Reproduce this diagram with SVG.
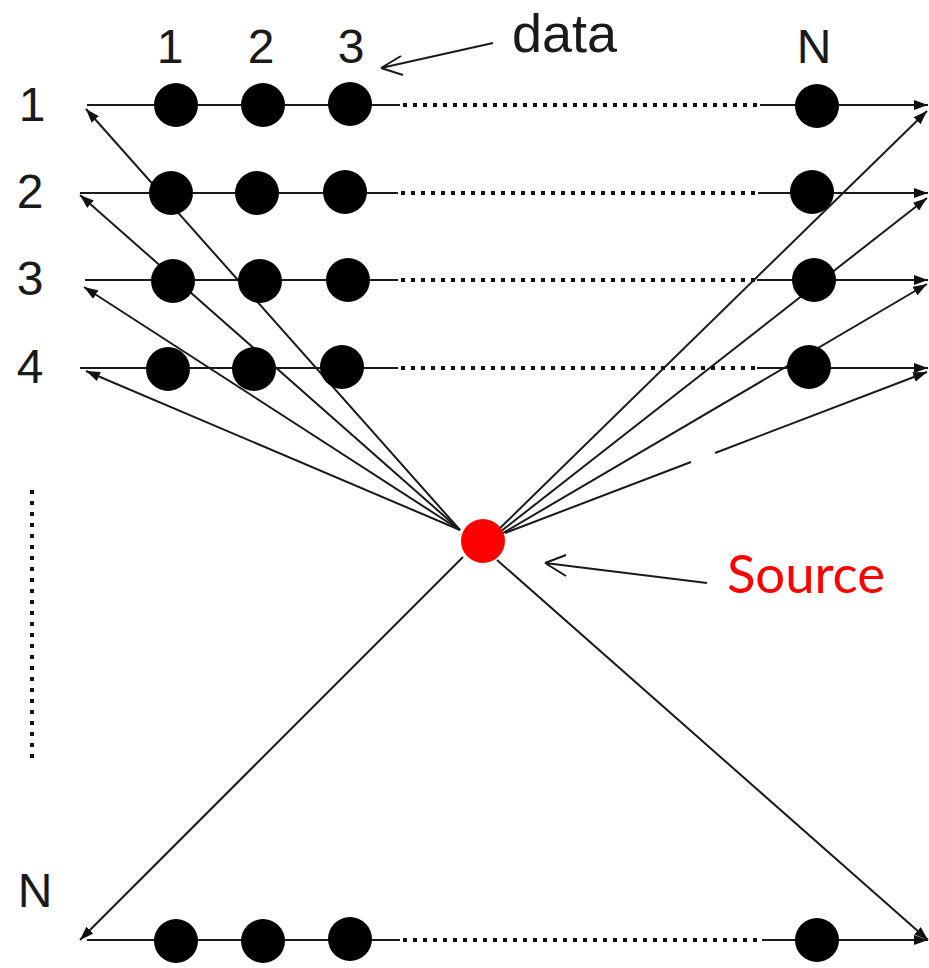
<svg xmlns="http://www.w3.org/2000/svg" width="929" height="968" viewBox="0 0 929 968">
<defs>
<style>
.ln{stroke:#1a1a1a;stroke-width:2;fill:none}
.ar{stroke:#1a1a1a;stroke-width:2;fill:none;marker-end:url(#ah)}
.dt{stroke:#111;stroke-width:4;stroke-dasharray:4 6;fill:none}
.dv{stroke:#111;stroke-width:4;stroke-dasharray:4 7;fill:none}
.ptr{stroke:#1a1a1a;stroke-width:2;fill:none}
.dot{fill:#000}
.lbl{font-family:"Liberation Sans",Arial,sans-serif;font-size:48px;fill:#1a1a1a}
.src{font-family:Lato,"Open Sans",sans-serif;font-size:52px;fill:#ff0000}
</style>
<marker id="ah" viewBox="0 0 14 10" refX="14" refY="5" markerWidth="14" markerHeight="10" markerUnits="userSpaceOnUse" orient="auto">
<path d="M0,0 L14,5 L0,10 Z" fill="#111"/>
</marker>
</defs>
<rect width="929" height="968" fill="#fff"/>

<g id="connectors">
<!-- row lines -->
<path class="ln" d="M87,105 H400"/><path class="dt" d="M403,105 H760"/><path class="ar" d="M760,105 H928"/>
<path class="ln" d="M80,193 H398"/><path class="dt" d="M401,193 H758"/><path class="ar" d="M758,193 H928"/>
<path class="ln" d="M85,280 H398"/><path class="dt" d="M401,280 H757"/><path class="ar" d="M757,280 H928"/>
<path class="ln" d="M80,368 H398"/><path class="dt" d="M401,368 H757"/><path class="ar" d="M757,368 H928"/>
<path class="ln" d="M87,940 H400"/><path class="dt" d="M403,940 H762"/><path class="ar" d="M762,940 H928"/>
<!-- source to left -->
<path class="ar" d="M460,530 L86,109"/>
<path class="ar" d="M460,530 L80,195"/>
<path class="ar" d="M460,530 L84,287"/>
<path class="ar" d="M460,530 L86,371"/>
<path class="ar" d="M463,557 L80,940"/>
<!-- source to right -->
<path class="ar" d="M496,532 L927,111"/>
<path class="ar" d="M500,532 L927,198"/>
<path class="ar" d="M503,533 L927,284"/>
<path class="ln" d="M505,533 L691,462"/>
<path class="ar" d="M715,453 L927,372"/>
<path class="ar" d="M497,560 L928,940"/>
<!-- left vertical dotted -->
<path class="dv" d="M32,490 V765"/>
<!-- pointer to data column -->
<path class="ptr" d="M493,43 L381,68 M381,68 L401,56 M381,68 L403,75"/>
<!-- pointer to source -->
<path class="ptr" d="M707,583 L545,563 M545,563 L566,555 M545,563 L566,576"/>
</g>

<g id="row1">
<circle class="dot" cx="176" cy="105" r="22"/><circle class="dot" cx="263" cy="105" r="22"/><circle class="dot" cx="350" cy="104" r="22"/><circle class="dot" cx="817" cy="106" r="22"/>
</g>
<g id="row2">
<circle class="dot" cx="171" cy="193" r="22"/><circle class="dot" cx="257" cy="193" r="22"/><circle class="dot" cx="345" cy="192" r="22"/><circle class="dot" cx="812" cy="192" r="22"/>
</g>
<g id="row3">
<circle class="dot" cx="173" cy="281" r="22"/><circle class="dot" cx="260" cy="281" r="22"/><circle class="dot" cx="348" cy="280" r="22"/><circle class="dot" cx="814" cy="280" r="22"/>
</g>
<g id="row4">
<circle class="dot" cx="168" cy="369" r="22"/><circle class="dot" cx="254" cy="369" r="22"/><circle class="dot" cx="342" cy="367" r="22"/><circle class="dot" cx="809" cy="367" r="22"/>
</g>
<g id="rowN">
<circle class="dot" cx="176" cy="941" r="22"/><circle class="dot" cx="263" cy="941" r="22"/><circle class="dot" cx="350" cy="939" r="22"/><circle class="dot" cx="817" cy="940" r="22"/>
</g>
<g id="source">
<circle cx="483" cy="541" r="22" fill="#ff0000"/>
</g>

<g id="labels">
<text class="lbl" x="170" y="63" text-anchor="middle">1</text>
<text class="lbl" x="261" y="63" text-anchor="middle">2</text>
<text class="lbl" x="351" y="63" text-anchor="middle">3</text>
<text class="lbl" x="814" y="63" text-anchor="middle">N</text>
<text class="lbl" x="32" y="121" text-anchor="middle">1</text>
<text class="lbl" x="30" y="208" text-anchor="middle">2</text>
<text class="lbl" x="30" y="295" text-anchor="middle">3</text>
<text class="lbl" x="30" y="383" text-anchor="middle">4</text>
<text class="lbl" x="35" y="907" text-anchor="middle">N</text>
<text class="lbl" x="512" y="52" style="font-size:54px">data</text>
<text class="src" x="727" y="593" textLength="158" lengthAdjust="spacingAndGlyphs">Source</text>
</g>
</svg>
